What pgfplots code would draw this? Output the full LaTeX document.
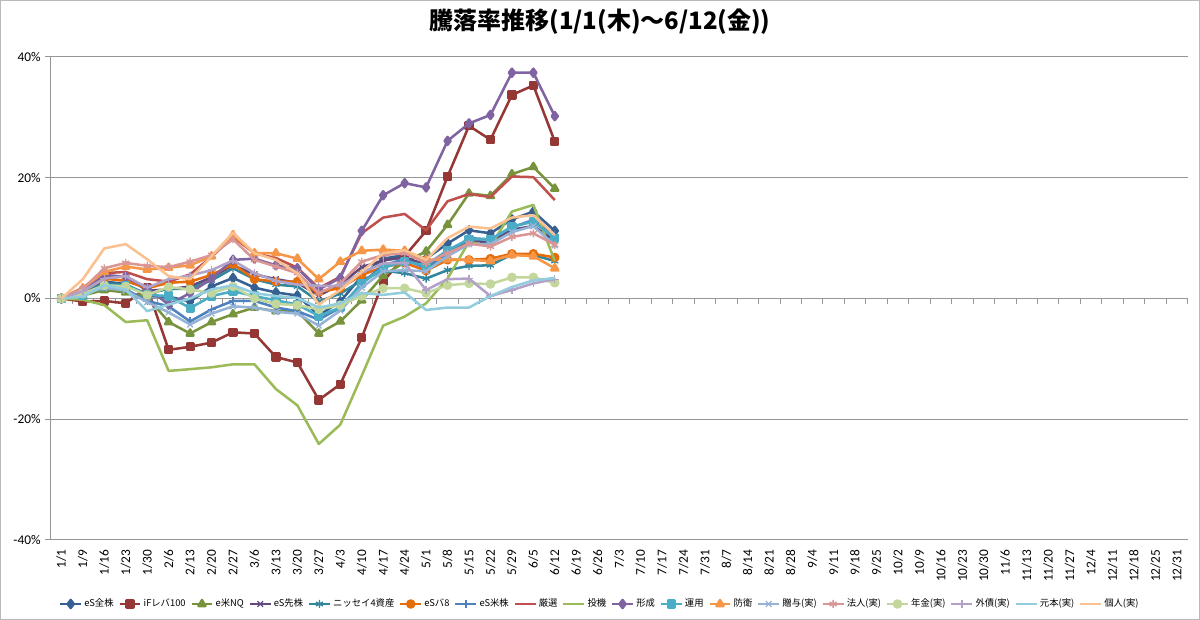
\documentclass[border=0pt]{standalone}
\usepackage{fontspec}
\setmainfont{Carlito}
\newfontfamily\cjk{Noto Sans CJK JP}
\usepackage{pgfplots}
\pgfplotsset{compat=1.18}
\definecolor{gridgray}{RGB}{150,150,150}
\definecolor{c1}{HTML}{376092}
\definecolor{c2}{HTML}{953735}
\definecolor{c3}{HTML}{77933C}
\definecolor{c4}{HTML}{604A7B}
\definecolor{c5}{HTML}{31859C}
\definecolor{c6}{HTML}{E46C0A}
\definecolor{c7}{HTML}{4F81BD}
\definecolor{c8}{HTML}{C0504D}
\definecolor{c9}{HTML}{9BBB59}
\definecolor{c10}{HTML}{8064A2}
\definecolor{c11}{HTML}{4BACC6}
\definecolor{c12}{HTML}{F79646}
\definecolor{c13}{HTML}{95B3D7}
\definecolor{c14}{HTML}{D99694}
\definecolor{c15}{HTML}{C3D69B}
\definecolor{c16}{HTML}{B3A2C7}
\definecolor{c17}{HTML}{93CDDD}
\definecolor{c18}{HTML}{FAC090}
\begin{document}
\begin{tikzpicture}
\useasboundingbox (0,0) rectangle (900pt,465pt);
\draw[gray!55, line width=0.75pt] (0.375pt,0.375pt) rectangle (899.625pt,464.625pt);
\node[font=\cjk\bfseries\fontsize{18}{20}\selectfont] at (450pt,448.5pt) {騰落率推移(1/1(木)～6/12(金))};
% zero axis line with tick marks between categories
\begin{axis}[
  at={(38pt,241.125pt)}, anchor=south west,
  width=852.75pt, height=181.125pt, scale only axis,
  xmin=-0.5, xmax=52.5, ymin=0, ymax=40,
  axis x line*=bottom, axis y line=none,
  xtick={-0.5,0.5,...,52.5}, xticklabels={},
  tick align=outside, major tick length=4pt,
  x tick style={draw=gridgray, line width=0.75pt},
  axis line style={draw=gridgray, line width=0.75pt},
]
\end{axis}
\begin{axis}[
  at={(38pt,60pt)}, anchor=south west,
  width=852.75pt, height=362.25pt, scale only axis,
  xmin=-0.5, xmax=52.5, ymin=-40, ymax=40,
  axis lines*=left,
  axis line style={draw=gridgray, line width=0.75pt},
  xtick={0,...,52},
  xticklabels={1/1,1/9,1/16,1/23,1/30,2/6,2/13,2/20,2/27,3/6,3/13,3/20,3/27,4/3,4/10,4/17,4/24,5/1,5/8,5/15,5/22,5/29,6/5,6/12,6/19,6/26,7/3,7/10,7/17,7/24,7/31,8/7,8/14,8/21,8/28,9/4,9/11,9/18,9/25,10/2,10/9,10/16,10/23,10/30,11/6,11/13,11/20,11/27,12/4,12/11,12/18,12/25,12/31},
  x tick style={draw=none},
  xticklabel style={rotate=90, anchor=east, font=\fontsize{10}{12}\selectfont, inner sep=3pt},
  ytick={-40,-20,0,20,40},
  yticklabels={-40\%,-20\%,0\%,20\%,40\%},
  yticklabel style={font=\fontsize{10}{12}\selectfont},
  y tick style={draw=gridgray, line width=0.75pt},
  tick align=outside, major tick length=4pt,
  ymajorgrids, grid style={draw=gridgray, line width=0.75pt},
  every axis plot/.append style={line width=1.9pt, line join=round},
  legend columns=18,
  legend image code/.code={\draw[mark repeat=2,mark phase=2,#1] plot coordinates {(0cm,0cm) (0.275cm,0cm) (0.55cm,0cm)};},
  legend style={at={(axis description cs:0.483,-0.1325)}, anchor=center, draw=none,
    font=\cjk\fontsize{7}{8}\selectfont, inner sep=0pt,
    nodes={inner xsep=1.5pt},
    /tikz/every even column/.append style={column sep=2pt}},
  legend cell align=left,
  clip mode=individual,
]
\addplot[c1, mark=diamond*, mark size=3pt] coordinates {(0,0)(1,0.8)(2,2.8)(3,2.4)(4,0.4)(5,0.3)(6,-0.5)(7,2.0)(8,3.4)(9,1.8)(10,1.0)(11,0.5)(12,-2.8)(13,-0.5)(14,3.7)(15,6.6)(16,7.2)(17,6.6)(18,9.1)(19,11.3)(20,10.8)(21,13.1)(22,14.4)(23,11.2)};
\addlegendentry{eS全株}
\addplot[c2, mark=square*, mark size=2.5pt] coordinates {(0,0)(1,-0.5)(2,-0.4)(3,-0.8)(4,1.8)(5,-8.5)(6,-8.0)(7,-7.3)(8,-5.6)(9,-5.8)(10,-9.7)(11,-10.6)(12,-16.8)(13,-14.2)(14,-6.5)(15,2.8)(16,7.0)(17,11.2)(18,20.2)(19,28.6)(20,26.3)(21,33.7)(22,35.3)(23,26.0)};
\addlegendentry{iFレバ100}
\addplot[c3, mark=triangle*, mark size=3pt] coordinates {(0,0)(1,0.5)(2,1.4)(3,1.0)(4,0.3)(5,-3.9)(6,-5.8)(7,-3.9)(8,-2.6)(9,-1.5)(10,-2.1)(11,-2.1)(12,-5.8)(13,-3.8)(14,-0.3)(15,3.8)(16,6.0)(17,7.8)(18,12.2)(19,17.4)(20,17.0)(21,20.6)(22,21.8)(23,18.2)};
\addlegendentry{e米NQ}
\addplot[c4, mark=x, mark size=3pt, mark options={line width=1pt}] coordinates {(0,0)(1,1.5)(2,3.5)(3,3.6)(4,1.3)(5,1.5)(6,2.0)(7,3.5)(8,5.5)(9,4.0)(10,3.2)(11,2.6)(12,0.5)(13,2.3)(14,5.2)(15,6.3)(16,6.8)(17,5.6)(18,7.8)(19,9.6)(20,9.3)(21,11.4)(22,12.0)(23,9.6)};
\addlegendentry{eS先株}
\addplot[c5, mark=asterisk, mark size=3pt, mark options={line width=1pt}] coordinates {(0,0)(1,1.0)(2,2.5)(3,2.2)(4,0.8)(5,1.6)(6,1.6)(7,3.0)(8,5.0)(9,3.2)(10,2.3)(11,2.0)(12,-0.5)(13,0.8)(14,3.0)(15,4.6)(16,4.2)(17,3.3)(18,4.7)(19,5.4)(20,5.5)(21,7.3)(22,7.2)(23,6.2)};
\addlegendentry{ニッセイ4資産}
\addplot[c6, mark=*, mark size=2.6pt] coordinates {(0,0)(1,1.2)(2,3.3)(3,2.9)(4,1.7)(5,2.6)(6,2.8)(7,3.9)(8,5.7)(9,3.2)(10,2.8)(11,2.8)(12,1.1)(13,1.7)(14,3.9)(15,5.2)(16,5.9)(17,4.6)(18,6.4)(19,6.4)(20,6.6)(21,7.4)(22,7.4)(23,6.8)};
\addlegendentry{eSバ8}
\addplot[c7, mark=+, mark size=3pt, mark options={line width=1pt}] coordinates {(0,0)(1,0.7)(2,2.0)(3,1.5)(4,-0.4)(5,-1.3)(6,-3.8)(7,-1.8)(8,-0.4)(9,-0.4)(10,-1.5)(11,-2.1)(12,-3.5)(13,-1.5)(14,2.5)(15,5.5)(16,6.5)(17,5.0)(18,7.5)(19,10.0)(20,9.8)(21,11.8)(22,13.0)(23,10.5)};
\addlegendentry{eS米株}
\addplot[c8] coordinates {(0,0)(1,1.8)(2,4.2)(3,4.4)(4,3.2)(5,2.8)(6,4.0)(7,6.9)(8,10.2)(9,7.5)(10,6.7)(11,5.1)(12,1.7)(13,3.6)(14,10.8)(15,13.4)(16,14.0)(17,11.3)(18,16.1)(19,17.3)(20,16.8)(21,20.2)(22,20.1)(23,16.3)};
\addlegendentry{厳選}
\addplot[c9] coordinates {(0,0)(1,-0.2)(2,-1.1)(3,-3.9)(4,-3.6)(5,-12.0)(6,-11.7)(7,-11.4)(8,-10.9)(9,-10.9)(10,-15.0)(11,-17.7)(12,-24.1)(13,-20.9)(14,-12.8)(15,-4.5)(16,-3.0)(17,-0.8)(18,3.3)(19,9.4)(20,8.6)(21,14.4)(22,15.5)(23,6.2)};
\addlegendentry{投機}
\addplot[c10, mark=diamond*, mark size=3pt] coordinates {(0,0)(1,1.5)(2,3.9)(3,3.6)(4,1.7)(5,-1.0)(6,0.9)(7,3.3)(8,6.4)(9,6.6)(10,5.5)(11,5.0)(12,1.5)(13,3.4)(14,11.2)(15,17.1)(16,19.1)(17,18.4)(18,26.1)(19,29.0)(20,30.4)(21,37.4)(22,37.4)(23,30.2)};
\addlegendentry{形成}
\addplot[c11, mark=square*, mark size=2.5pt] coordinates {(0,0)(1,0.5)(2,2.0)(3,2.2)(4,0.6)(5,0.4)(6,-1.6)(7,0.4)(8,1.2)(9,0.4)(10,-0.3)(11,-1.0)(12,-2.9)(13,-1.5)(14,2.5)(15,5.1)(16,6.1)(17,5.5)(18,8.0)(19,9.8)(20,9.8)(21,11.9)(22,12.7)(23,10.0)};
\addlegendentry{運用}
\addplot[c12, mark=triangle*, mark size=3pt] coordinates {(0,0)(1,1.7)(2,4.4)(3,5.3)(4,4.8)(5,5.1)(6,5.5)(7,7.0)(8,10.5)(9,7.5)(10,7.5)(11,6.6)(12,3.2)(13,6.1)(14,7.9)(15,8.1)(16,7.9)(17,6.4)(18,6.5)(19,6.4)(20,6.2)(21,7.2)(22,7.0)(23,5.0)};
\addlegendentry{防衛}
\addplot[c13, mark=x, mark size=3pt, mark options={line width=1pt}] coordinates {(0,0)(1,0.7)(2,1.8)(3,1.3)(4,-0.6)(5,-2.3)(6,-4.3)(7,-2.5)(8,-1.3)(9,-1.5)(10,-2.2)(11,-2.5)(12,-4.5)(13,-2.0)(14,1.8)(15,4.5)(16,4.7)(17,4.5)(18,7.0)(19,9.0)(20,9.0)(21,11.0)(22,12.0)(23,8.8)};
\addlegendentry{贈与(実)}
\addplot[c14, mark=asterisk, mark size=3pt, mark options={line width=1pt}] coordinates {(0,0)(1,1.6)(2,5.0)(3,5.9)(4,5.4)(5,5.2)(6,6.1)(7,7.2)(8,9.8)(9,6.4)(10,5.3)(11,4.2)(12,0.9)(13,2.5)(14,6.1)(15,7.2)(16,7.5)(17,5.9)(18,7.5)(19,9.1)(20,8.6)(21,10.2)(22,10.8)(23,8.9)};
\addlegendentry{法人(実)}
\addplot[c15, mark=*, mark size=2.6pt] coordinates {(0,0)(1,0.8)(2,2.2)(3,2.0)(4,0.6)(5,1.9)(6,1.5)(7,0.9)(8,2.0)(9,0.0)(10,-0.9)(11,-1.1)(12,-1.8)(13,-1.1)(14,0.4)(15,1.7)(16,1.7)(17,0.9)(18,2.2)(19,2.5)(20,2.4)(21,3.5)(22,3.5)(23,2.6)};
\addlegendentry{年金(実)}
\addplot[c16, mark=+, mark size=3pt, mark options={line width=1pt}] coordinates {(0,0)(1,1.2)(2,3.3)(3,3.7)(4,1.8)(5,3.2)(6,3.8)(7,4.7)(8,6.3)(9,4.2)(10,2.9)(11,2.3)(12,2.1)(13,2.1)(14,4.3)(15,5.8)(16,5.9)(17,1.4)(18,3.2)(19,3.3)(20,0.4)(21,1.4)(22,2.5)(23,3.2)};
\addlegendentry{外債(実)}
\addplot[c17] coordinates {(0,0)(1,0.3)(2,2.2)(3,1.5)(4,-2.1)(5,-1.0)(6,0.0)(7,1.5)(8,2.2)(9,0.9)(10,0.4)(11,0.1)(12,-1.5)(13,-0.8)(14,0.9)(15,0.6)(16,1.0)(17,-1.9)(18,-1.5)(19,-1.5)(20,0.4)(21,1.9)(22,3.0)(23,3.4)};
\addlegendentry{元本(実)}
\addplot[c18] coordinates {(0,0)(1,3.2)(2,8.3)(3,9.0)(4,6.5)(5,3.7)(6,3.2)(7,7.0)(8,10.9)(9,7.5)(10,6.4)(11,4.2)(12,-1.0)(13,1.4)(14,4.4)(15,7.5)(16,8.0)(17,6.4)(18,10.0)(19,11.9)(20,11.6)(21,13.4)(22,13.8)(23,10.5)};
\addlegendentry{個人(実)}
\end{axis}
\end{tikzpicture}
\end{document}
